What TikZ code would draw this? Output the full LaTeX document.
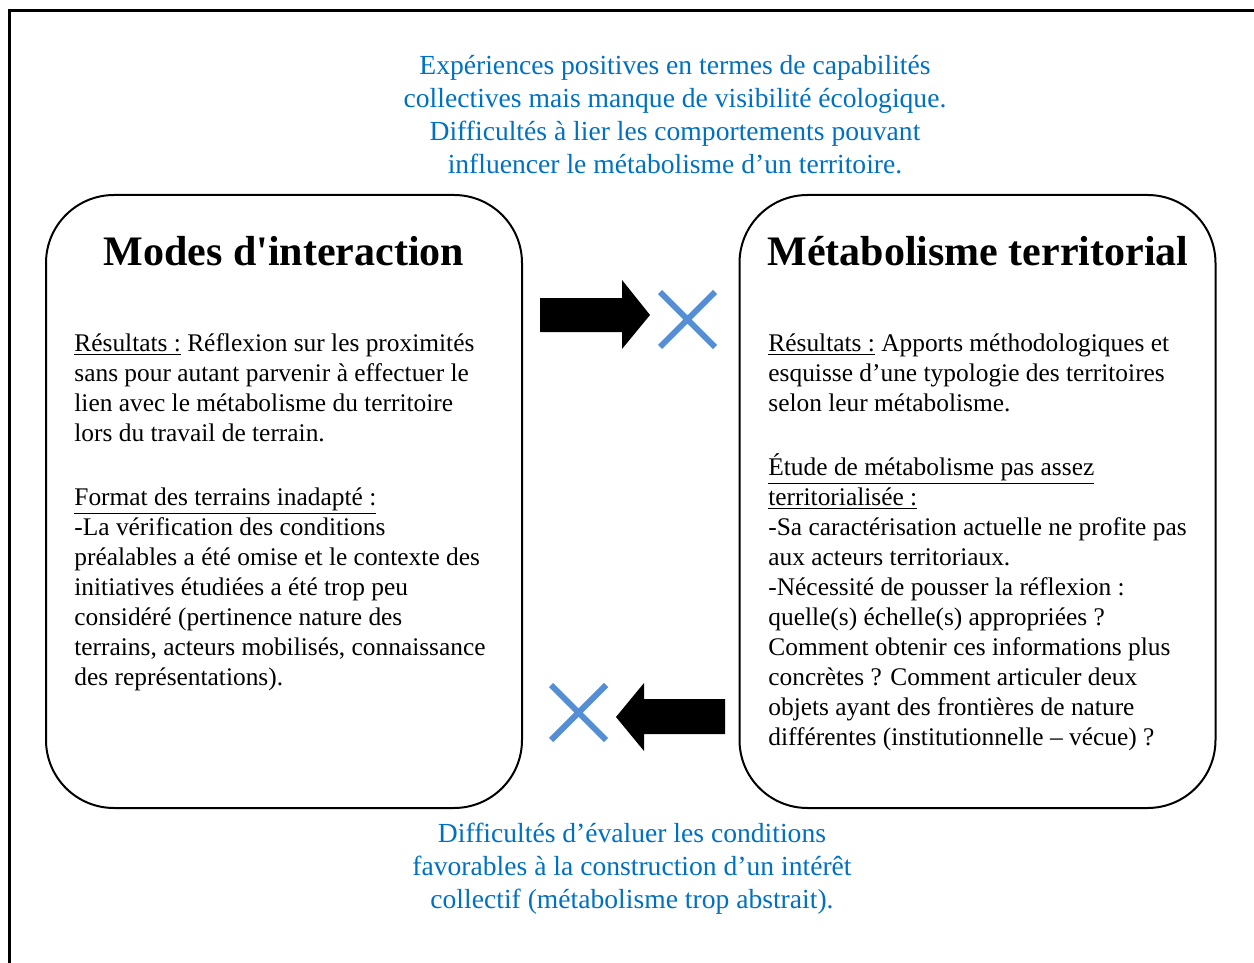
\documentclass[tikz,border=0pt]{standalone}
\usepackage{fontspec}
\setmainfont{Liberation Serif}
\definecolor{noteblue}{RGB}{0,112,192}
\definecolor{crossblue}{RGB}{85,142,213}

\begin{document}
\begin{tikzpicture}[x=0.5pt,y=-0.5pt,
  panel/.style={draw,line width=1pt,rounded corners=34pt,minimum width=238pt,minimum height=306.5pt},
  ptitle/.style={font=\fontsize{21}{24}\selectfont\bfseries,anchor=base,inner sep=0pt},
  pbody/.style={font=\fontsize{12.7}{15}\selectfont,align=left,anchor=north west,inner sep=0pt},
  note/.style={font=\fontsize{13.8}{16.5}\selectfont,text=noteblue,align=center,inner sep=0pt},
  cross/.style={crossblue,line width=3pt}]
\useasboundingbox (0,0) rectangle (1254,963);
\draw[line width=1.5pt] (9,963) -- (9,11) -- (1254,11);
% the two panels
\node[panel] (modes) at (284,501.5) {};
\node[panel] (metab) at (977.5,501.5) {};
\node[ptitle] (modestitle) at (284,265) {Modes d\textquotesingle interaction};
\node[ptitle] (metabtitle) at (978,265) {Métabolisme territorial};
\node[pbody] (modestext) at (74,333) {\underline{Résultats :} Réflexion sur les proximités\\
sans pour autant parvenir à effectuer le\\
lien avec le métabolisme du territoire\\
lors du travail de terrain.\\[17pt]
\underline{Format des terrains inadapté :}\\
-La vérification des conditions\\
préalables a été omise et le contexte des\\
initiatives étudiées a été trop peu\\
considéré (pertinence nature des\\
terrains, acteurs mobilisés, connaissance\\
des représentations).};
\node[pbody] (metabtext) at (768,333) {\underline{Résultats :} Apports méthodologiques et\\
esquisse d’une typologie des territoires\\
selon leur métabolisme.\\[17pt]
\underline{Étude de métabolisme pas assez}\\
\underline{territorialisée :}\\
-Sa caractérisation actuelle ne profite pas\\
aux acteurs territoriaux.\\
-Nécessité de pousser la réflexion :\\
quelle(s) échelle(s) appropriées ?\\
Comment obtenir ces informations plus\\
concrètes ? Comment articuler deux\\
objets ayant des frontières de nature\\
différentes (institutionnelle – vécue) ?};
% blue comments
\node[note] (topnote) at (675,115) {Expériences positives en termes de capabilités\\
collectives mais manque de visibilité écologique.\\
Difficultés à lier les comportements pouvant\\
influencer le métabolisme d’un territoire.};
\node[note] (bottomnote) at (632,869) {Difficultés d’évaluer les conditions\\
favorables à la construction d’un intérêt\\
collectif (métabolisme trop abstrait).};
% block arrows and crosses
\fill (540,298) -- (622,298) -- (622,280) -- (650,315) -- (622,349) -- (622,332) -- (540,332) -- cycle;
\draw[cross] (660,292) -- (715,347) (715,292) -- (660,347);
\fill (725,699) -- (644,699) -- (644,683) -- (616,717) -- (644,751) -- (644,734) -- (725,734) -- cycle;
\draw[cross] (551,685) -- (606,740) (606,685) -- (551,740);
\end{tikzpicture}
\end{document}
